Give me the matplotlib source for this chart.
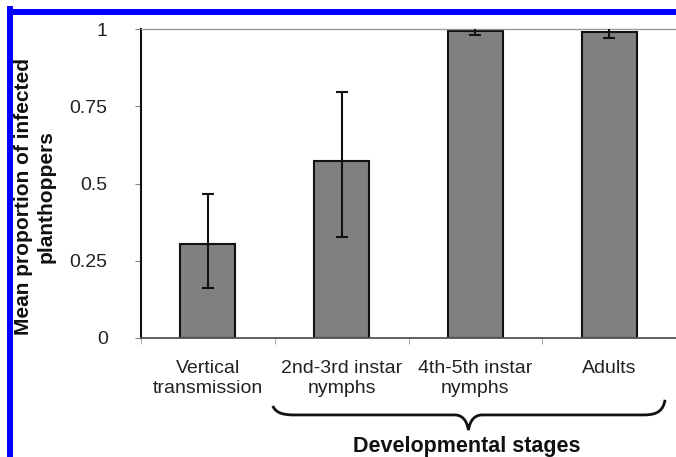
import matplotlib
matplotlib.use("Agg")
import matplotlib.pyplot as plt
from matplotlib.path import Path
from matplotlib.patches import PathPatch
from matplotlib.lines import Line2D
from matplotlib.transforms import blended_transform_factory

plt.rcParams['font.family'] = ['Liberation Sans', 'DejaVu Sans']

# data
stages = ["Vertical\ntransmission", "2nd-3rd instar\nnymphs",
          "4th-5th instar\nnymphs", "Adults"]
means = [0.303, 0.573, 0.995, 0.99]
err_low = [0.142, 0.247, 0.014, 0.02]
err_high = [0.162, 0.223, 0.014, 0.02]
yticks = [0, 0.25, 0.5, 0.75, 1]
ytick_labels = ["0", "0.25", "0.5", "0.75", "1"]

fig = plt.figure(figsize=(6.76, 4.57), dpi=100)
ax = fig.add_axes([0.2086, 0.2604, 0.7914, 0.6761])

x = list(range(len(stages)))
ax.bar(x, means, width=0.41, color="#808080", edgecolor="#111111",
       linewidth=1.5, zorder=2)
ax.errorbar(x, means, yerr=[err_low, err_high], fmt="none", ecolor="#111111",
            elinewidth=1.5, capsize=4, capthick=1.5, zorder=3)

ax.set_xlim(-0.5, 3.5)
ax.set_ylim(0, 1)
ax.set_yticks(yticks)
ax.set_yticklabels(ytick_labels)
ax.set_xticks(x)
ax.set_xticklabels(stages, fontsize=14, color="#222222")
ax.set_xticks([i - 0.5 for i in range(len(stages) + 1)], minor=True)
ax.tick_params(axis="x", which="major", length=0, pad=16)
ax.tick_params(axis="x", which="minor", length=4, color="#999999",
               direction="out")
ax.tick_params(axis="y", length=4, color="#888888", labelsize=14,
               labelcolor="#222222", pad=20)

ax.spines["right"].set_visible(False)
ax.spines["top"].set_color("#999999")
ax.spines["top"].set_linewidth(1.0)
ax.spines["bottom"].set_color("#555555")
ax.spines["bottom"].set_linewidth(1.3)
ax.spines["left"].set_color("#111111")
ax.spines["left"].set_linewidth(1.5)

# curly brace under the three developmental stages
tr = blended_transform_factory(ax.transData, ax.transAxes)
verts = [(0.485, -0.220),
         (0.51, -0.243), (0.56, -0.249), (0.649, -0.249),
         (1.843, -0.249),
         (1.90, -0.249), (1.935, -0.265), (1.948, -0.298),
         (1.961, -0.265), (1.996, -0.249), (2.052, -0.249),
         (3.261, -0.249),
         (3.36, -0.249), (3.405, -0.235), (3.418, -0.200)]
codes = [Path.MOVETO,
         Path.CURVE4, Path.CURVE4, Path.CURVE4,
         Path.LINETO,
         Path.CURVE4, Path.CURVE4, Path.CURVE4,
         Path.CURVE4, Path.CURVE4, Path.CURVE4,
         Path.LINETO,
         Path.CURVE4, Path.CURVE4, Path.CURVE4]
ax.add_patch(PathPatch(Path(verts, codes), transform=tr, fill=False,
                       lw=2.0, edgecolor="#111111", clip_on=False))

fig.text(467 / 676, 5 / 457, "Developmental stages", fontsize=15.5,
         fontweight="bold", ha="center", va="baseline", color="#111111")
fig.text(35 / 676, 1 - 197 / 457,
         "Mean proportion of infected\nplanthoppers", fontsize=15,
         fontweight="bold", rotation=90, ha="center", va="center",
         multialignment="center", linespacing=1.25, color="#111111")

# blue frame along top and left edge
fig.add_artist(Line2D([10 / 676, 1.0], [1 - 12 / 457, 1 - 12 / 457],
                      transform=fig.transFigure, color="#0000ff", lw=4.3))
fig.add_artist(Line2D([10 / 676, 10 / 676], [0, 1 - 9 / 457],
                      transform=fig.transFigure, color="#0000ff", lw=4.3))

fig.savefig("out.png", dpi=100)
